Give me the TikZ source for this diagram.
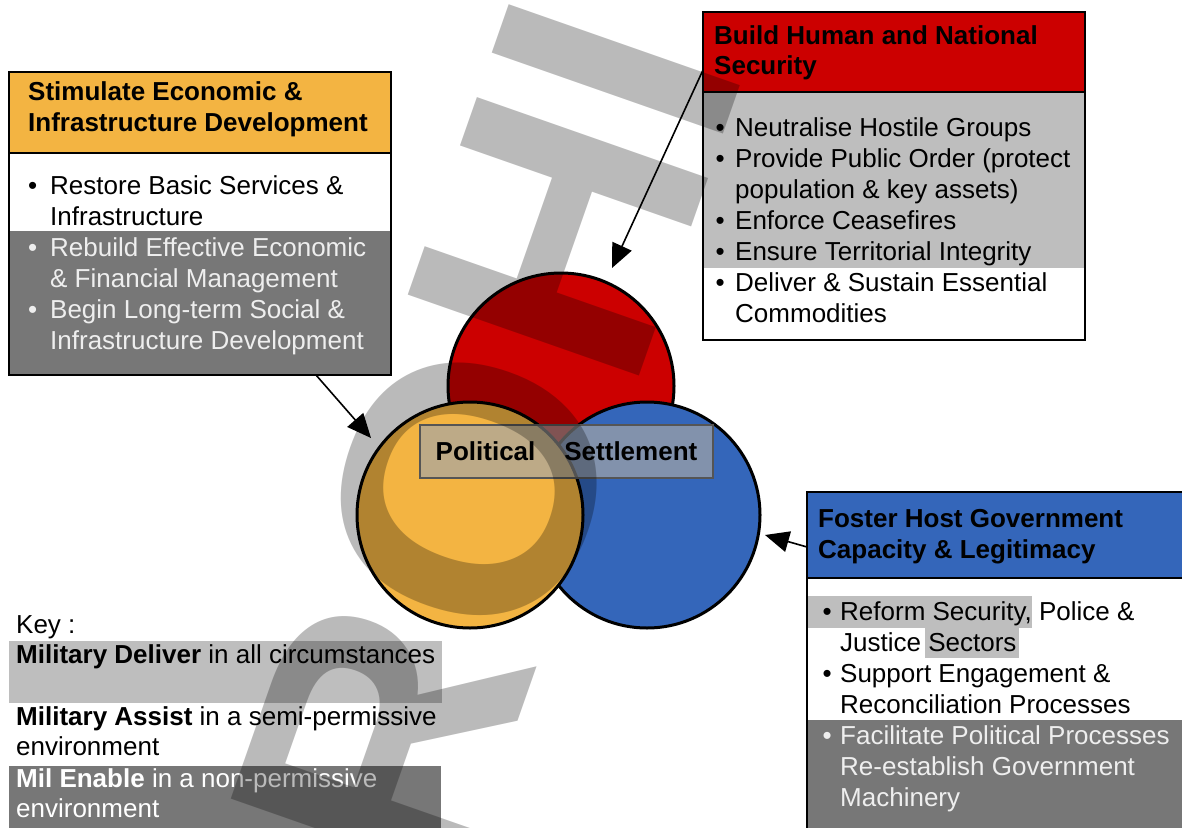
\documentclass[tikz,border=0pt]{standalone}
\usepackage{fontspec}
\setmainfont{Liberation Sans}
\usetikzlibrary{arrows.meta}
\usetikzlibrary{positioning}

\definecolor{seorange}{RGB}{243,180,66}
\definecolor{hsred}{RGB}{204,0,0}
\definecolor{hgblue}{RGB}{52,102,186}
\definecolor{darkband}{RGB}{119,119,119}
\definecolor{lightband}{RGB}{190,190,190}
\definecolor{paletext}{RGB}{238,238,238}
\definecolor{psgray}{RGB}{166,166,166}
\definecolor{psedge}{RGB}{85,85,85}

\newlength{\bulletgap}
\newcommand{\bl}{\makebox[\bulletgap][l]{\textbullet}}
\newcommand{\ind}{\hspace*{\bulletgap}}

\begin{document}
\begin{tikzpicture}[x=1pt,y=-1pt,
  txt/.style={anchor=base west,inner sep=0pt,font=\fontsize{26}{31}\selectfont},
  hdtxt/.style={txt,font=\fontsize{26}{31}\selectfont\bfseries},
  boxline/.style={draw=black,line width=2pt},
  ring/.style={circle,draw=black,line width=3pt,minimum size=226pt,inner sep=0pt},
  arr/.style={draw=black,line width=1.6pt,-{Triangle[length=24pt,width=21pt]}},
  wmark/.style={anchor=base west,inner sep=0pt,rotate=70.7,text=black,text opacity=0.27,
    font=\fontsize{356}{356}\selectfont\bfseries}]

\useasboundingbox (0,0) rectangle (1182,827);
\clip (0,0) rectangle (1182,827);
\fill[white] (0,0) rectangle (1182,827);

% economic box
\fill[seorange] (9,72) rectangle (391,153);
\fill[white] (9,153) rectangle (391,231);
\fill[darkband] (9,231) rectangle (391,375);
\draw[boxline] (9,72) rectangle (391,375);
\draw[boxline] (9,153) -- (391,153);
\coordinate (sefoot) at (316,375);

% security box
\fill[hsred] (703,12) rectangle (1085,92);
\fill[lightband] (703,92) rectangle (1085,268);
\fill[white] (703,268) rectangle (1085,340);
\draw[boxline] (703,12) rectangle (1085,340);
\draw[boxline] (703,92) -- (1085,92);
\coordinate (hsside) at (703,70);

% governance box
\fill[hgblue] (807,492) rectangle (1200,578);
\fill[white] (807,578) rectangle (1200,720);
\fill[darkband] (807,720) rectangle (1200,840);
\fill[lightband] (807,596) rectangle (1032,628);
\fill[lightband] (925,628) rectangle (1019,658);
\draw[boxline] (1200,492) -- (807,492) -- (807,840);
\draw[boxline] (807,578) -- (1200,578);
\coordinate (hgside) at (807,547);

% key bands
\fill[lightband] (9,641) rectangle (442,703);
\fill[darkband] (9,766) rectangle (441,840);

% the three lines of effort
\node[ring,fill=hsred] (redring) at (561,386) {};
\node[ring,fill=hgblue] (bluering) at (647,515) {};
\node[ring,fill=seorange] (yelring) at (470,515) {};

\node[draw=psedge,line width=2.5pt,fill=psgray,fill opacity=0.69,text opacity=1,
  minimum width=293pt,minimum height=53pt,inner sep=0pt,
  font=\fontsize{26}{31}\selectfont\bfseries] (settle) at (566.5,451.5)
  {Political\hspace{29pt}Settlement};

% arrows
\coordinate (yeltip) at (371,438);
\coordinate (redtip) at (612,268);
\coordinate (bluetip) at (765,535);
\draw[arr] (sefoot) -- (yeltip);
\draw[arr] (hsside) -- (redtip);
\draw[arr] (hgside) -- (bluetip);

% economic text
\node[hdtxt] (sehd1) at (28,100) {Stimulate Economic \&};
\node[hdtxt] (sehd2) at (28,131) {Infrastructure Development};
\setlength{\bulletgap}{22pt}
\foreach \yy/\t [count=\i] in {194/{\bl Restore Basic Services \&}, 225/{\ind Infrastructure}}
  \node[txt] (sew\i) at (28,\yy) {\t};
\foreach \yy/\t [count=\i] in {256/{\bl Rebuild Effective Economic}, 287/{\ind \& Financial Management},
    318/{\bl Begin Long-term Social \&}, 349/{\ind Infrastructure Development}}
  \node[txt,text=paletext] (seg\i) at (28,\yy) {\t};

% security text
\node[hdtxt] (hshd1) at (714,44) {Build Human and National};
\node[hdtxt] (hshd2) at (714,74) {Security};
\setlength{\bulletgap}{19.5pt}
\foreach \yy/\t [count=\i] in {136/{\bl Neutralise Hostile Groups}, 167/{\bl Provide Public Order (protect},
    198/{\ind population \& key assets)}, 229/{\bl Enforce Ceasefires}, 260/{\bl Ensure Territorial Integrity},
    291/{\bl Deliver \& Sustain Essential}, 322/{\ind Commodities}}
  \node[txt] (hs\i) at (715.5,\yy) {\t};

% governance text
\node[hdtxt] (hghd1) at (818,527) {Foster Host Government};
\node[hdtxt] (hghd2) at (818,558) {Capacity \& Legitimacy};
\setlength{\bulletgap}{17.5pt}
\foreach \yy/\t [count=\i] in {620/{\bl Reform Security, Police \&}, 651/{\ind Justice Sectors},
    682/{\bl Support Engagement \&}, 713/{\ind Reconciliation Processes}}
  \node[txt] (hgw\i) at (822.5,\yy) {\t};
\foreach \yy/\t [count=\i] in {744/{\bl Facilitate Political Processes}, 775/{\ind Re-establish Government},
    806/{\ind Machinery}}
  \node[txt,text=paletext] (hgg\i) at (822.5,\yy) {\t};

% key
\node[txt] (keyhd) at (16,633) {Key :};
\node[txt] (key1) at (16,663) {\textbf{Military Deliver} in all circumstances};
\node[txt] (key2) at (16,725) {\textbf{Military Assist} in a semi-permissive};
\node[txt] (key2b) at (16,755) {environment};
\node[txt,text=white] (key3) at (16,787) {\textbf{Mil Enable} in a non-permissive};
\node[txt,text=white] (key3b) at (16,817) {environment};

% watermark, cut along its top edge
\begin{scope}
\clip (0,-193) -- (1182,218) -- (1182,900) -- (0,900) -- cycle;
\node[wmark] (stamp) at (376,1127) {PROHIBITED};
\end{scope}

\end{tikzpicture}
\end{document}
